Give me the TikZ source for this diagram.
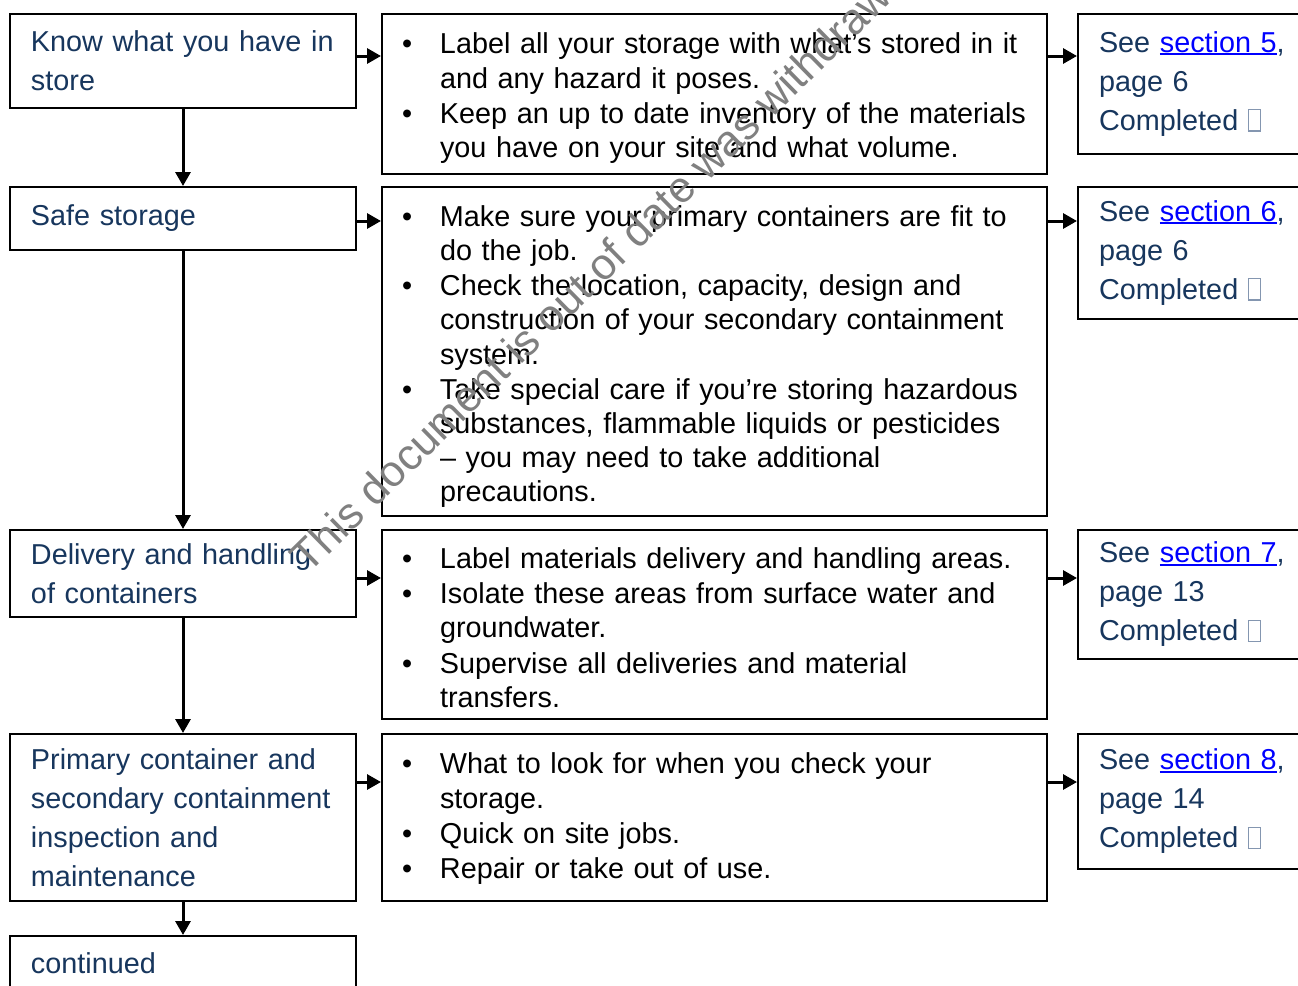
\documentclass[tikz,border=0pt]{standalone}
\usepackage{fontspec}
\setmainfont{Liberation Sans}
\usetikzlibrary{arrows.meta}
\newdimen\PX \PX=0.75pt
\definecolor{navy}{HTML}{17365D}
\definecolor{linkblue}{HTML}{0000FF}
\definecolor{chkcol}{HTML}{8496B0}
\definecolor{wmgray}{HTML}{808080}
\hyphenpenalty=10000
\newcommand\chkbox{{\color{chkcol}\setlength\fboxsep{0pt}\setlength\fboxrule{1.3\PX}\fbox{\phantom{\rule{11\PX}{20\PX}}}}}
\newcommand\lnk[1]{{\color{linkblue}\setbox0\hbox{#1}\rlap{\rule[-3\PX]{\wd0}{2\PX}}\box0}}
\newcommand\bitem[1]{\leftskip=20\PX\hangindent=38\PX\hangafter=1\noindent\makebox[38\PX][l]{\textbullet}#1\par}
\newcommand\topgap[1]{\par\vskip#1\relax}
\tikzset{
  leftbox/.style={draw, line width=1.5pt, anchor=north west, text width=228pt, inner xsep=15.75pt, inner ysep=0pt,
    align=left, text=navy, minimum height=#1, font=\fontsize{21.6}{29.25}\selectfont},
  midbox/.style={draw, line width=1.5pt, anchor=north west, text width=498.75pt, inner xsep=0pt, inner ysep=0pt,
    align=left, text=black, minimum height=#1, font=\fontsize{21.6}{25.65}\selectfont\setlength{\parskip}{1\PX}},
  rightbox/.style={draw, line width=1.5pt, anchor=north west, text width=180pt, inner xsep=15.75pt, inner ysep=0pt,
    align=left, text=navy, minimum height=#1, font=\fontsize{21.6}{29.25}\selectfont},
  arr/.style={line width=2.25pt, -{Triangle[length=10.5pt,width=11.25pt]}},
  watermark/.style={rotate=44.5, anchor=base west, text=wmgray, inner sep=0pt, font=\fontsize{32.7}{32.7}\selectfont}
}
\begin{document}
\begin{tikzpicture}[x=0.75pt,y=-0.75pt]
\clip (0,0) rectangle (1298,985);
\fill[white] (0,0) rectangle (1298,985);
% left column
\node[leftbox=70.5pt] (l1) at (9,13) {Know what you have in\\store};
\node[leftbox=47.25pt] (l2) at (9,186) {Safe storage};
\node[leftbox=65.25pt] (l3) at (9,529) {Delivery and handling\\of containers};
\node[leftbox=125.25pt] (l4) at (9,733) {Primary container and\\secondary containment\\inspection and\\maintenance};
\node[leftbox=40.5pt] (l5) at (9,935) {continued};
% middle column
\node[midbox=120pt] (m1) at (381,13) {\topgap{-6\PX}%
\bitem{Label all your storage with what’s stored in it\newline and any hazard it poses.}
\bitem{Keep an up to date inventory of the materials\newline you have on your site and what volume.}};
\node[midbox=246.75pt] (m2) at (381,186) {\topgap{-4\PX}%
\bitem{Make sure your primary containers are fit to\newline do the job.}
\bitem{Check the location, capacity, design and\newline construction of your secondary containment\newline system.}
\bitem{Take special care if you’re storing hazardous\newline substances, flammable liquids or pesticides\newline – you may need to take additional\newline precautions.}};
\node[midbox=141.75pt] (m3) at (381,529) {\topgap{-8\PX}%
\bitem{Label materials delivery and handling areas.}
\bitem{Isolate these areas from surface water and\newline groundwater.}
\bitem{Supervise all deliveries and material\newline transfers.}};
\node[midbox=125.25pt] (m4) at (381,733) {\topgap{-12\PX}%
\bitem{What to look for when you check your\newline storage.}
\bitem{Quick on site jobs.}
\bitem{Repair or take out of use.}};
% right column
\node[rightbox=105pt] (r1) at (1077,13) {See \lnk{section 5},\\page 6\\Completed \chkbox};
\node[rightbox=99pt] (r2) at (1077,186) {See \lnk{section 6},\\page 6\\Completed \chkbox};
\node[rightbox=96.75pt] (r3) at (1077,529) {See \lnk{section 7},\\page 13\\Completed \chkbox};
\node[rightbox=101.25pt] (r4) at (1077,733) {See \lnk{section 8},\\page 14\\Completed \chkbox};
% vertical arrows
\draw[arr] (l1.south) -- (l2.north);
\draw[arr] (l2.south) -- (l3.north);
\draw[arr] (l3.south) -- (l4.north);
\draw[arr] (l4.south) -- (l5.north);
% horizontal arrows
\path (l1.north east) ++(0,43) coordinate (a1);
\path (l2.north east) ++(0,35) coordinate (a2);
\path (l3.north east) ++(0,49) coordinate (a3);
\path (l4.north east) ++(0,49) coordinate (a4);
\foreach \i in {1,2,3,4}{
  \draw[arr] (a\i) -- (a\i -| m\i.west);
  \draw[arr] (a\i -| m\i.east) -- (a\i -| r\i.west);
}
% watermark
\node[watermark] (wm) at (308,575) {This document is out of date was withdrawn};
\end{tikzpicture}
\end{document}
